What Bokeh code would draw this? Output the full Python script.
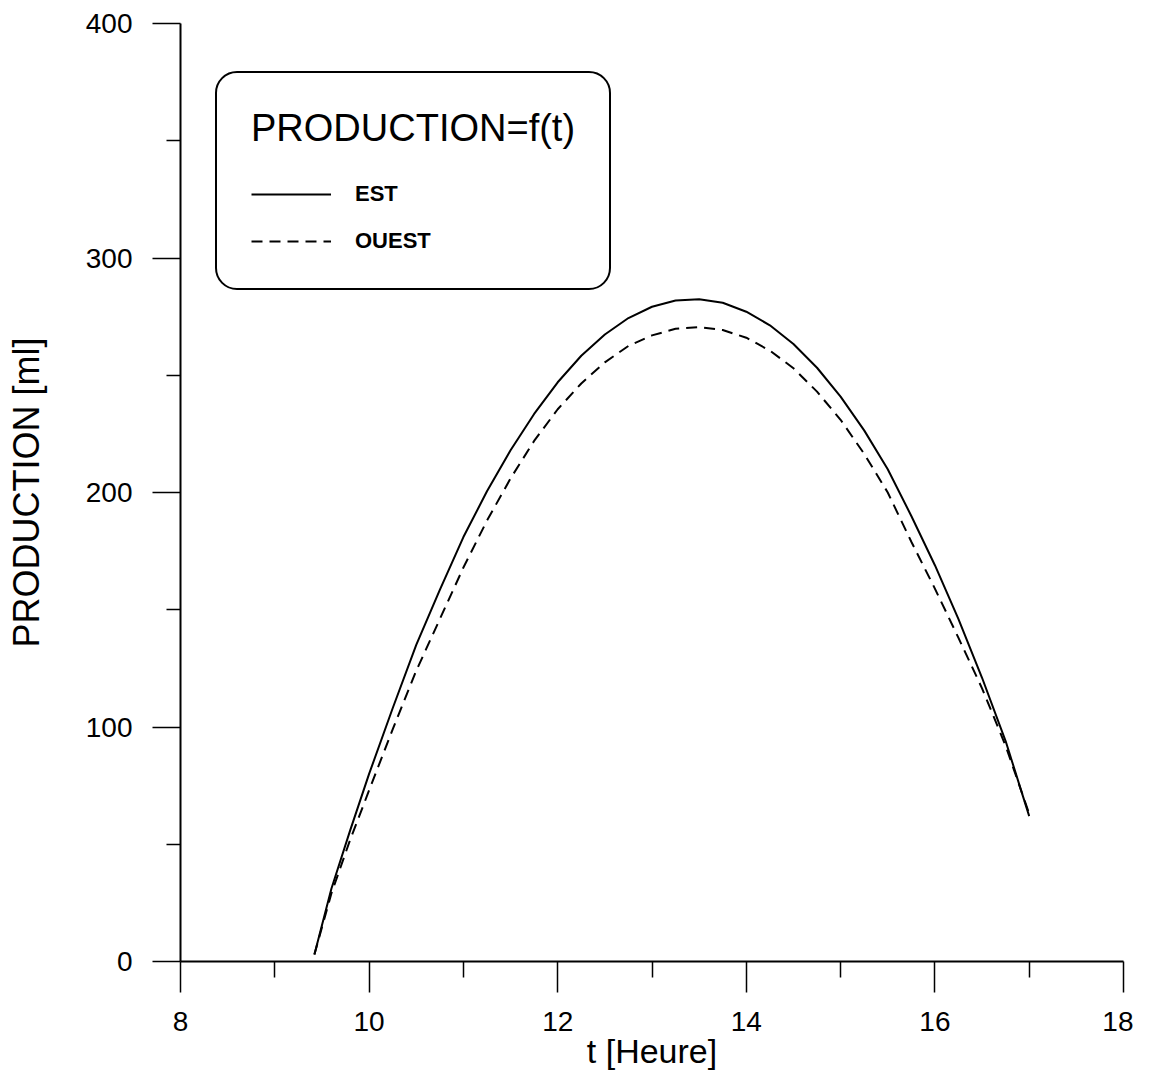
from bokeh.plotting import figure
from bokeh.models import Range1d, FixedTicker, Legend, LegendItem
from bokeh.embed import file_html
from bokeh.resources import INLINE

# Data
t_heure = [9.42, 9.6, 9.8, 10.0, 10.25, 10.5, 10.75, 11.0, 11.25, 11.5, 11.75,
           12.0, 12.25, 12.5, 12.75, 13.0, 13.25, 13.5, 13.75, 14.0, 14.25,
           14.5, 14.75, 15.0, 15.25, 15.5, 15.75, 16.0, 16.25, 16.5, 16.75, 17.0]
est = [3, 31, 56, 80, 108, 135, 158.5, 181, 200.5, 218, 233.5,
       247, 258.3, 267.4, 274.4, 279.2, 281.9, 282.4, 280.9, 277.1, 271.3,
       263.3, 253.2, 240.9, 226.5, 209.9, 190, 169, 146, 121, 94, 62]
ouest = [3, 29, 52, 73, 99, 124, 146, 168, 188, 206, 222,
         235.5, 246.5, 255.5, 262.5, 267, 269.8, 270.5, 269.3, 266, 260.5,
         253, 243, 231, 216.5, 200, 179, 159, 138, 116.5, 92, 63]

x_major = [8, 10, 12, 14, 16, 18]
x_minor = [9, 11, 13, 15, 17]
y_major = [0, 100, 200, 300, 400]
y_minor = [50, 150, 250, 350]

x_title = "t [Heure]"
y_title = "PRODUCTION [ml]"

FONT = "Liberation Sans"

p = figure(width=1133, height=1072, output_backend="svg", toolbar_location=None,
           x_range=Range1d(8, 18), y_range=Range1d(0, 400),
           min_border_left=180, min_border_right=10, min_border_top=23,
           min_border_bottom=98)
p.outline_line_color = None
p.xgrid.visible = False
p.ygrid.visible = False
p.background_fill_color = "white"
p.border_fill_color = "white"

r_est = p.line(t_heure, est, line_color="black", line_width=2)
r_ouest = p.line(t_heure, ouest, line_color="black", line_width=2, line_dash="11 7")

xa = p.xaxis[0]
xa.ticker = FixedTicker(ticks=x_major, minor_ticks=x_minor)
ya = p.yaxis[0]
ya.ticker = FixedTicker(ticks=y_major, minor_ticks=y_minor)

for ax in (xa, ya):
    ax.axis_line_color = "black"
    ax.axis_line_width = 2
    ax.major_tick_line_color = "black"
    ax.major_tick_line_width = 1.5
    ax.minor_tick_line_color = "black"
    ax.minor_tick_line_width = 1.5
    ax.major_tick_in = 0
    ax.minor_tick_in = 0
    ax.major_label_text_font = FONT
    ax.major_label_text_font_size = "28px"
    ax.major_label_text_color = "black"
    ax.axis_label_text_font = FONT
    ax.axis_label_text_font_style = "normal"
    ax.axis_label_text_color = "black"

xa.major_tick_out = 31
xa.minor_tick_out = 16
xa.major_label_standoff = 19
xa.axis_label = x_title
xa.axis_label_text_font_size = "34px"
xa.axis_label_standoff = -2

ya.major_tick_out = 28
ya.minor_tick_out = 14
ya.major_label_standoff = 20
ya.axis_label = y_title
ya.axis_label_text_font_size = "36px"
ya.axis_label_standoff = 36

legend = Legend(
    items=[LegendItem(label="EST", renderers=[r_est]),
           LegendItem(label="OUEST", renderers=[r_ouest])],
    title="PRODUCTION=f(t)",
    location=(35, 671),
    margin=0,
    padding=34,
    spacing=21,
    glyph_width=80,
    glyph_height=26,
    label_height=26,
    label_standoff=24,
    title_standoff=31,
)
legend.title_text_font = FONT
legend.title_text_font_size = "38px"
legend.title_text_font_style = "normal"
legend.title_text_color = "black"
legend.label_text_font = FONT
legend.label_text_font_size = "22px"
legend.label_text_font_style = "bold"
legend.label_text_color = "black"
legend.border_line_color = "black"
legend.border_line_alpha = 1.0
legend.border_line_width = 2
legend.background_fill_color = "white"
legend.background_fill_alpha = 1.0
if "border_radius" in Legend.properties():
    legend.border_radius = 22
p.add_layout(legend, "center")

open("out.html", "w").write(file_html(p, INLINE))
